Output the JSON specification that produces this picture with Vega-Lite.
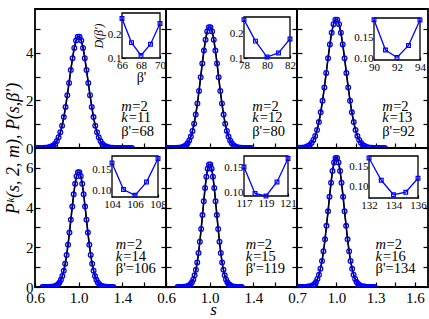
{
"$schema":"https://vega.github.io/schema/vega-lite/v6.json",
"padding":{"left":3,"top":8,"right":2,"bottom":0},
"datasets":{
"d1":[{"s":0.608,"y":0},{"s":0.624,"y":0},{"s":0.640,"y":0},{"s":0.656,"y":0},{"s":0.672,"y":0},{"s":0.688,"y":0.01},{"s":0.704,"y":0.01},{"s":0.720,"y":0.02},{"s":0.736,"y":0.04},{"s":0.752,"y":0.07},{"s":0.768,"y":0.11},{"s":0.784,"y":0.18},{"s":0.800,"y":0.29},{"s":0.816,"y":0.45},{"s":0.832,"y":0.66},{"s":0.848,"y":0.94},{"s":0.864,"y":1.30},{"s":0.880,"y":1.73},{"s":0.896,"y":2.22},{"s":0.912,"y":2.74},{"s":0.928,"y":3.28},{"s":0.944,"y":3.78},{"s":0.960,"y":4.21},{"s":0.976,"y":4.52},{"s":0.992,"y":4.68},{"s":1.008,"y":4.68},{"s":1.024,"y":4.52},{"s":1.040,"y":4.21},{"s":1.056,"y":3.78},{"s":1.072,"y":3.28},{"s":1.088,"y":2.74},{"s":1.104,"y":2.22},{"s":1.120,"y":1.73},{"s":1.136,"y":1.30},{"s":1.152,"y":0.94},{"s":1.168,"y":0.66},{"s":1.184,"y":0.45},{"s":1.200,"y":0.29},{"s":1.216,"y":0.18},{"s":1.232,"y":0.11},{"s":1.248,"y":0.07},{"s":1.264,"y":0.04},{"s":1.280,"y":0.02},{"s":1.296,"y":0.01},{"s":1.312,"y":0.01},{"s":1.328,"y":0},{"s":1.344,"y":0},{"s":1.360,"y":0},{"s":1.376,"y":0},{"s":1.392,"y":0},{"s":1.408,"y":0},{"s":1.424,"y":0},{"s":1.440,"y":0},{"s":1.456,"y":0},{"s":1.472,"y":0},{"s":1.488,"y":0}],
"d2":[{"s":0.6025,"y":0},{"s":0.6175,"y":0},{"s":0.6325,"y":0},{"s":0.6475,"y":0},{"s":0.6625,"y":0},{"s":0.6775,"y":0},{"s":0.6925,"y":0},{"s":0.7075,"y":0.01},{"s":0.7225,"y":0.01},{"s":0.7375,"y":0.02},{"s":0.7525,"y":0.04},{"s":0.7675,"y":0.07},{"s":0.7825,"y":0.12},{"s":0.7975,"y":0.20},{"s":0.8125,"y":0.32},{"s":0.8275,"y":0.48},{"s":0.8425,"y":0.72},{"s":0.8575,"y":1.02},{"s":0.8725,"y":1.41},{"s":0.8875,"y":1.87},{"s":0.9025,"y":2.40},{"s":0.9175,"y":2.98},{"s":0.9325,"y":3.56},{"s":0.9475,"y":4.10},{"s":0.9625,"y":4.56},{"s":0.9775,"y":4.90},{"s":0.9925,"y":5.08},{"s":1.0075,"y":5.08},{"s":1.0225,"y":4.90},{"s":1.0375,"y":4.56},{"s":1.0525,"y":4.10},{"s":1.0675,"y":3.56},{"s":1.0825,"y":2.98},{"s":1.0975,"y":2.40},{"s":1.1125,"y":1.87},{"s":1.1275,"y":1.41},{"s":1.1425,"y":1.02},{"s":1.1575,"y":0.72},{"s":1.1725,"y":0.48},{"s":1.1875,"y":0.32},{"s":1.2025,"y":0.20},{"s":1.2175,"y":0.12},{"s":1.2325,"y":0.07},{"s":1.2475,"y":0.04},{"s":1.2625,"y":0.02},{"s":1.2775,"y":0.01},{"s":1.2925,"y":0.01},{"s":1.3075,"y":0},{"s":1.3225,"y":0},{"s":1.3375,"y":0},{"s":1.3525,"y":0},{"s":1.3675,"y":0},{"s":1.3825,"y":0}],
"d3":[{"s":0.699,"y":0},{"s":0.713,"y":0},{"s":0.727,"y":0.01},{"s":0.741,"y":0.01},{"s":0.755,"y":0.02},{"s":0.769,"y":0.04},{"s":0.783,"y":0.08},{"s":0.797,"y":0.13},{"s":0.811,"y":0.21},{"s":0.825,"y":0.34},{"s":0.839,"y":0.51},{"s":0.853,"y":0.76},{"s":0.867,"y":1.09},{"s":0.881,"y":1.50},{"s":0.895,"y":1.99},{"s":0.909,"y":2.55},{"s":0.923,"y":3.16},{"s":0.937,"y":3.78},{"s":0.951,"y":4.36},{"s":0.965,"y":4.85},{"s":0.979,"y":5.21},{"s":0.993,"y":5.40},{"s":1.007,"y":5.40},{"s":1.021,"y":5.21},{"s":1.035,"y":4.85},{"s":1.049,"y":4.36},{"s":1.063,"y":3.78},{"s":1.077,"y":3.16},{"s":1.091,"y":2.55},{"s":1.105,"y":1.99},{"s":1.119,"y":1.50},{"s":1.133,"y":1.09},{"s":1.147,"y":0.76},{"s":1.161,"y":0.51},{"s":1.175,"y":0.34},{"s":1.189,"y":0.21},{"s":1.203,"y":0.13},{"s":1.217,"y":0.08},{"s":1.231,"y":0.04},{"s":1.245,"y":0.02},{"s":1.259,"y":0.01},{"s":1.273,"y":0.01},{"s":1.287,"y":0},{"s":1.301,"y":0},{"s":1.315,"y":0},{"s":1.329,"y":0},{"s":1.343,"y":0},{"s":1.357,"y":0},{"s":1.371,"y":0}],
"d4":[{"s":0.6685,"y":0},{"s":0.6815,"y":0},{"s":0.6945,"y":0},{"s":0.7075,"y":0},{"s":0.7205,"y":0},{"s":0.7335,"y":0},{"s":0.7465,"y":0.01},{"s":0.7595,"y":0.01},{"s":0.7725,"y":0.02},{"s":0.7855,"y":0.05},{"s":0.7985,"y":0.08},{"s":0.8115,"y":0.14},{"s":0.8245,"y":0.23},{"s":0.8375,"y":0.36},{"s":0.8505,"y":0.55},{"s":0.8635,"y":0.82},{"s":0.8765,"y":1.17},{"s":0.8895,"y":1.61},{"s":0.9025,"y":2.13},{"s":0.9155,"y":2.74},{"s":0.9285,"y":3.39},{"s":0.9415,"y":4.05},{"s":0.9545,"y":4.67},{"s":0.9675,"y":5.20},{"s":0.9805,"y":5.58},{"s":0.9935,"y":5.78},{"s":1.0065,"y":5.78},{"s":1.0195,"y":5.58},{"s":1.0325,"y":5.20},{"s":1.0455,"y":4.67},{"s":1.0585,"y":4.05},{"s":1.0715,"y":3.39},{"s":1.0845,"y":2.74},{"s":1.0975,"y":2.13},{"s":1.1105,"y":1.61},{"s":1.1235,"y":1.17},{"s":1.1365,"y":0.82},{"s":1.1495,"y":0.55},{"s":1.1625,"y":0.36},{"s":1.1755,"y":0.23},{"s":1.1885,"y":0.14},{"s":1.2015,"y":0.08},{"s":1.2145,"y":0.05},{"s":1.2275,"y":0.02},{"s":1.2405,"y":0.01},{"s":1.2535,"y":0.01},{"s":1.2665,"y":0},{"s":1.2795,"y":0},{"s":1.2925,"y":0},{"s":1.3055,"y":0},{"s":1.3185,"y":0}],
"d5":[{"s":0.706,"y":0},{"s":0.718,"y":0},{"s":0.730,"y":0},{"s":0.742,"y":0},{"s":0.754,"y":0},{"s":0.766,"y":0.01},{"s":0.778,"y":0.01},{"s":0.790,"y":0.03},{"s":0.802,"y":0.05},{"s":0.814,"y":0.09},{"s":0.826,"y":0.15},{"s":0.838,"y":0.24},{"s":0.850,"y":0.38},{"s":0.862,"y":0.59},{"s":0.874,"y":0.87},{"s":0.886,"y":1.24},{"s":0.898,"y":1.71},{"s":0.910,"y":2.28},{"s":0.922,"y":2.92},{"s":0.934,"y":3.62},{"s":0.946,"y":4.32},{"s":0.958,"y":4.99},{"s":0.970,"y":5.55},{"s":0.982,"y":5.96},{"s":0.994,"y":6.17},{"s":1.006,"y":6.17},{"s":1.018,"y":5.96},{"s":1.030,"y":5.55},{"s":1.042,"y":4.99},{"s":1.054,"y":4.32},{"s":1.066,"y":3.62},{"s":1.078,"y":2.92},{"s":1.090,"y":2.28},{"s":1.102,"y":1.71},{"s":1.114,"y":1.24},{"s":1.126,"y":0.87},{"s":1.138,"y":0.59},{"s":1.150,"y":0.38},{"s":1.162,"y":0.24},{"s":1.174,"y":0.15},{"s":1.186,"y":0.09},{"s":1.198,"y":0.05},{"s":1.210,"y":0.03},{"s":1.222,"y":0.01},{"s":1.234,"y":0.01},{"s":1.246,"y":0},{"s":1.258,"y":0},{"s":1.270,"y":0},{"s":1.282,"y":0},{"s":1.294,"y":0}],
"d6":[{"s":0.707,"y":0},{"s":0.718,"y":0},{"s":0.730,"y":0},{"s":0.741,"y":0},{"s":0.753,"y":0},{"s":0.764,"y":0},{"s":0.776,"y":0.01},{"s":0.787,"y":0.02},{"s":0.799,"y":0.03},{"s":0.810,"y":0.05},{"s":0.822,"y":0.09},{"s":0.833,"y":0.15},{"s":0.845,"y":0.25},{"s":0.856,"y":0.40},{"s":0.868,"y":0.62},{"s":0.879,"y":0.92},{"s":0.891,"y":1.31},{"s":0.902,"y":1.80},{"s":0.914,"y":2.40},{"s":0.925,"y":3.08},{"s":0.937,"y":3.81},{"s":0.948,"y":4.55},{"s":0.960,"y":5.25},{"s":0.971,"y":5.84},{"s":0.983,"y":6.27},{"s":0.994,"y":6.50},{"s":1.006,"y":6.50},{"s":1.017,"y":6.27},{"s":1.029,"y":5.84},{"s":1.040,"y":5.25},{"s":1.052,"y":4.55},{"s":1.063,"y":3.81},{"s":1.075,"y":3.08},{"s":1.086,"y":2.40},{"s":1.098,"y":1.80},{"s":1.109,"y":1.31},{"s":1.121,"y":0.92},{"s":1.132,"y":0.62},{"s":1.144,"y":0.40},{"s":1.155,"y":0.25},{"s":1.167,"y":0.15},{"s":1.178,"y":0.09},{"s":1.190,"y":0.05},{"s":1.201,"y":0.03},{"s":1.213,"y":0.02},{"s":1.224,"y":0.01},{"s":1.236,"y":0},{"s":1.247,"y":0},{"s":1.259,"y":0},{"s":1.270,"y":0},{"s":1.282,"y":0},{"s":1.293,"y":0}],
"i1":[{"b":66,"d":0.267},{"b":67,"d":0.165},{"b":68,"d":0.111},{"b":69,"d":0.158},{"b":70,"d":0.246}],
"i2":[{"b":78,"d":0.259},{"b":79,"d":0.170},{"b":80,"d":0.104},{"b":81,"d":0.121},{"b":82,"d":0.179}],
"i3":[{"b":90,"d":0.193},{"b":91,"d":0.120},{"b":92,"d":0.102},{"b":93,"d":0.131},{"b":94,"d":0.192}],
"i4":[{"b":104,"d":0.166},{"b":105,"d":0.102},{"b":106,"d":0.088},{"b":107,"d":0.120},{"b":108,"d":0.177}],
"i5":[{"b":117,"d":0.151},{"b":118,"d":0.098},{"b":119,"d":0.093},{"b":120,"d":0.121},{"b":121,"d":0.168}],
"i6":[{"b":132,"d":0.170},{"b":133,"d":0.116},{"b":134,"d":0.081},{"b":135,"d":0.087},{"b":136,"d":0.121}],
"lab":[{"p":1,"m":2,"k":11,"b":68},{"p":2,"m":2,"k":12,"b":80},{"p":3,"m":2,"k":13,"b":92},{"p":4,"m":2,"k":14,"b":106},{"p":5,"m":2,"k":15,"b":119},{"p":6,"m":2,"k":16,"b":134}]
},
"columns":3,
"spacing":0,
"bounds":"flush",
"concat":[
{"width":131,"height":139,
 "layer":[
  {"data":{"name":"d1"},
   "layer":[
    {"mark":{"type":"line","color":"#0000ff","strokeWidth":1.2,"clip":true},
     "encoding":{"x":{"field":"s","type":"quantitative","scale":{"domain":[0.6,1.8],"nice":false,"zero":false},"axis":{"orient":"bottom","values":[0.6,0.8,1,1.2,1.4,1.6,1.8],"labels":false,"tickSize":-5,"title":null}},
      "y":{"field":"y","type":"quantitative","scale":{"domain":[0,5.85],"nice":false},"axis":{"orient":"left","values":[0,1,2,3,4,5],"labelExpr":"datum.value%2==0?datum.label:''","tickSize":-5,"labelPadding":7,"title":null}}}},
    {"transform":[{"filter":{"field":"s","range":[0.75,1.25]}}],
     "mark":{"type":"line","color":"black","strokeWidth":1.6,"interpolate":"monotone"},
     "encoding":{"x":{"field":"s","type":"quantitative","axis":null},"y":{"field":"y","type":"quantitative","axis":{"orient":"right","values":[0,1,2,3,4,5],"labels":false,"tickSize":-5,"title":null}}}},
    {"mark":{"type":"point","shape":"circle","filled":false,"color":"#0000ff","size":22,"strokeWidth":1.3,"opacity":1,"clip":true},
     "encoding":{"x":{"field":"s","type":"quantitative","axis":null},"y":{"field":"y","type":"quantitative","axis":null}}},
    {"data":{"name":"lab"},"transform":[{"filter":{"field":"p","equal":1}}],
     "layer":[
      {"mark":{"type":"text","text":"m","font":"Liberation Serif","fontStyle":"italic","fontSize":14.5,"align":"left","baseline":"middle"},"encoding":{"x":{"datum":1.39,"type":"quantitative","axis":null},"y":{"datum":1.74,"type":"quantitative","axis":null}}},
      {"mark":{"type":"text","text":"=2","font":"Liberation Serif","fontSize":14.5,"align":"left","baseline":"middle","dx":11},"encoding":{"x":{"datum":1.39,"type":"quantitative","axis":null},"y":{"datum":1.74,"type":"quantitative","axis":null}}},
      {"mark":{"type":"text","text":"k","font":"Liberation Serif","fontStyle":"italic","fontSize":14.5,"align":"left","baseline":"middle"},"encoding":{"x":{"datum":1.39,"type":"quantitative","axis":null},"y":{"datum":1.25,"type":"quantitative","axis":null}}},
      {"mark":{"type":"text","text":"=11","font":"Liberation Serif","fontSize":14.5,"align":"left","baseline":"middle","dx":7.5},"encoding":{"x":{"datum":1.39,"type":"quantitative","axis":null},"y":{"datum":1.25,"type":"quantitative","axis":null}}},
      {"mark":{"type":"text","text":"β'=68","font":"Liberation Serif","fontSize":14.5,"align":"left","baseline":"middle"},"encoding":{"x":{"datum":1.39,"type":"quantitative","axis":null},"y":{"datum":0.69,"type":"quantitative","axis":null}}}
     ]}
   ],
   "resolve":{"axis":{"x":"independent","y":"independent"}}},
  {"data":{"name":"i1"},
   "layer":[
    {"transform":[{"filter":{"field":"b","equal":66}}],
     "mark":{"type":"rect","fill":"white","stroke":"black","strokeWidth":1.3},
     "encoding":{"x":{"datum":66,"type":"quantitative","scale":{"domain":[66,70],"range":[87,125],"nice":false,"zero":false},"axis":{"orient":"bottom","offset":-90,"values":[66,67,68,69,70],"labelExpr":"(datum.value-66)%2==0?datum.label:''","tickSize":-3,"labelPadding":4,"labelFontSize":11,"labelFlush":false,"labelOverlap":false,"title":"β'","titleFontSize":14,"titlePadding":0}},
      "x2":{"datum":70},
      "y":{"datum":0.1,"type":"quantitative","scale":{"domain":[0.1,0.29],"range":[49,4],"nice":false,"zero":false},"axis":{"orient":"left","offset":-87,"values":[0.1,0.2],"format":".1f","tickSize":-3,"labelPadding":4,"labelFontSize":11,"labelOverlap":false,"title":"D(β')","titleFontSize":12,"titleFontStyle":"italic","titlePadding":2}},
      "y2":{"datum":0.29}}},
    {"mark":{"type":"line","color":"#0000ff","strokeWidth":1.3},"encoding":{"x":{"field":"b","type":"quantitative"},"y":{"field":"d","type":"quantitative"}}},
    {"mark":{"type":"point","shape":"square","filled":false,"color":"#0000ff","size":14,"strokeWidth":1.2,"opacity":1},"encoding":{"x":{"field":"b","type":"quantitative"},"y":{"field":"d","type":"quantitative"}}}
   ]}
 ],
 "resolve":{"scale":{"x":"independent","y":"independent"},"axis":{"x":"independent","y":"independent"}}
},
{"width":131,"height":139,
 "layer":[
  {"data":{"name":"d2"},
   "layer":[
    {"mark":{"type":"line","color":"#0000ff","strokeWidth":1.2,"clip":true},
     "encoding":{"x":{"field":"s","type":"quantitative","scale":{"domain":[0.6,1.8],"nice":false,"zero":false},"axis":{"orient":"bottom","values":[0.6,0.8,1,1.2,1.4,1.6,1.8],"labels":false,"tickSize":-5,"title":null}},
      "y":{"field":"y","type":"quantitative","scale":{"domain":[0,5.85],"nice":false},"axis":{"orient":"left","values":[0,1,2,3,4,5],"labels":false,"tickSize":-5,"title":null}}}},
    {"transform":[{"filter":{"field":"s","range":[0.76,1.22]}}],
     "mark":{"type":"line","color":"black","strokeWidth":1.6,"interpolate":"monotone"},
     "encoding":{"x":{"field":"s","type":"quantitative","axis":null},"y":{"field":"y","type":"quantitative","axis":{"orient":"right","values":[0,1,2,3,4,5],"labels":false,"tickSize":-5,"title":null}}}},
    {"mark":{"type":"point","shape":"circle","filled":false,"color":"#0000ff","size":22,"strokeWidth":1.3,"opacity":1,"clip":true},
     "encoding":{"x":{"field":"s","type":"quantitative","axis":null},"y":{"field":"y","type":"quantitative","axis":null}}},
    {"data":{"name":"lab"},"transform":[{"filter":{"field":"p","equal":2}}],
     "layer":[
      {"mark":{"type":"text","text":"m","font":"Liberation Serif","fontStyle":"italic","fontSize":14.5,"align":"left","baseline":"middle"},"encoding":{"x":{"datum":1.39,"type":"quantitative","axis":null},"y":{"datum":1.74,"type":"quantitative","axis":null}}},
      {"mark":{"type":"text","text":"=2","font":"Liberation Serif","fontSize":14.5,"align":"left","baseline":"middle","dx":11},"encoding":{"x":{"datum":1.39,"type":"quantitative","axis":null},"y":{"datum":1.74,"type":"quantitative","axis":null}}},
      {"mark":{"type":"text","text":"k","font":"Liberation Serif","fontStyle":"italic","fontSize":14.5,"align":"left","baseline":"middle"},"encoding":{"x":{"datum":1.39,"type":"quantitative","axis":null},"y":{"datum":1.25,"type":"quantitative","axis":null}}},
      {"mark":{"type":"text","text":"=12","font":"Liberation Serif","fontSize":14.5,"align":"left","baseline":"middle","dx":7.5},"encoding":{"x":{"datum":1.39,"type":"quantitative","axis":null},"y":{"datum":1.25,"type":"quantitative","axis":null}}},
      {"mark":{"type":"text","text":"β'=80","font":"Liberation Serif","fontSize":14.5,"align":"left","baseline":"middle"},"encoding":{"x":{"datum":1.39,"type":"quantitative","axis":null},"y":{"datum":0.69,"type":"quantitative","axis":null}}}
     ]}
   ],
   "resolve":{"axis":{"x":"independent","y":"independent"}}},
  {"data":{"name":"i2"},
   "layer":[
    {"transform":[{"filter":{"field":"b","equal":78}}],
     "mark":{"type":"rect","fill":"white","stroke":"black","strokeWidth":1.3},
     "encoding":{"x":{"datum":78,"type":"quantitative","scale":{"domain":[78,82],"range":[78,124],"nice":false,"zero":false},"axis":{"orient":"bottom","offset":-90,"values":[78,79,80,81,82],"labelExpr":"(datum.value-78)%2==0?datum.label:''","tickSize":-3,"labelPadding":4,"labelFontSize":11,"labelFlush":false,"labelOverlap":false,"title":null}},
      "x2":{"datum":82},
      "y":{"datum":0.1,"type":"quantitative","scale":{"domain":[0.1,0.27],"range":[49,8],"nice":false,"zero":false},"axis":{"orient":"left","offset":-78,"values":[0.1,0.2],"format":".1f","tickSize":-3,"labelPadding":4,"labelFontSize":11,"labelOverlap":false,"title":null}},
      "y2":{"datum":0.27}}},
    {"mark":{"type":"line","color":"#0000ff","strokeWidth":1.3},"encoding":{"x":{"field":"b","type":"quantitative"},"y":{"field":"d","type":"quantitative"}}},
    {"mark":{"type":"point","shape":"square","filled":false,"color":"#0000ff","size":14,"strokeWidth":1.2,"opacity":1},"encoding":{"x":{"field":"b","type":"quantitative"},"y":{"field":"d","type":"quantitative"}}}
   ]}
 ],
 "resolve":{"scale":{"x":"independent","y":"independent"},"axis":{"x":"independent","y":"independent"}}
},
{"width":131,"height":139,
 "layer":[
  {"data":{"name":"d3"},
   "layer":[
    {"mark":{"type":"line","color":"#0000ff","strokeWidth":1.2,"clip":true},
     "encoding":{"x":{"field":"s","type":"quantitative","scale":{"domain":[0.7,1.7],"nice":false,"zero":false},"axis":{"orient":"bottom","values":[0.7,0.85,1,1.15,1.3,1.45,1.6],"labels":false,"tickSize":-5,"title":null}},
      "y":{"field":"y","type":"quantitative","scale":{"domain":[0,5.85],"nice":false},"axis":{"orient":"left","values":[0,1,2,3,4,5],"labels":false,"tickSize":-5,"title":null}}}},
    {"transform":[{"filter":{"field":"s","range":[0.78,1.21]}}],
     "mark":{"type":"line","color":"black","strokeWidth":1.6,"interpolate":"monotone"},
     "encoding":{"x":{"field":"s","type":"quantitative","axis":null},"y":{"field":"y","type":"quantitative","axis":{"orient":"right","values":[0,1,2,3,4,5],"labels":false,"tickSize":-5,"title":null}}}},
    {"mark":{"type":"point","shape":"circle","filled":false,"color":"#0000ff","size":22,"strokeWidth":1.3,"opacity":1,"clip":true},
     "encoding":{"x":{"field":"s","type":"quantitative","axis":null},"y":{"field":"y","type":"quantitative","axis":null}}},
    {"data":{"name":"lab"},"transform":[{"filter":{"field":"p","equal":3}}],
     "layer":[
      {"mark":{"type":"text","text":"m","font":"Liberation Serif","fontStyle":"italic","fontSize":14.5,"align":"left","baseline":"middle"},"encoding":{"x":{"datum":1.35,"type":"quantitative","axis":null},"y":{"datum":1.74,"type":"quantitative","axis":null}}},
      {"mark":{"type":"text","text":"=2","font":"Liberation Serif","fontSize":14.5,"align":"left","baseline":"middle","dx":11},"encoding":{"x":{"datum":1.35,"type":"quantitative","axis":null},"y":{"datum":1.74,"type":"quantitative","axis":null}}},
      {"mark":{"type":"text","text":"k","font":"Liberation Serif","fontStyle":"italic","fontSize":14.5,"align":"left","baseline":"middle"},"encoding":{"x":{"datum":1.35,"type":"quantitative","axis":null},"y":{"datum":1.25,"type":"quantitative","axis":null}}},
      {"mark":{"type":"text","text":"=13","font":"Liberation Serif","fontSize":14.5,"align":"left","baseline":"middle","dx":7.5},"encoding":{"x":{"datum":1.35,"type":"quantitative","axis":null},"y":{"datum":1.25,"type":"quantitative","axis":null}}},
      {"mark":{"type":"text","text":"β'=92","font":"Liberation Serif","fontSize":14.5,"align":"left","baseline":"middle"},"encoding":{"x":{"datum":1.35,"type":"quantitative","axis":null},"y":{"datum":0.69,"type":"quantitative","axis":null}}}
     ]}
   ],
   "resolve":{"axis":{"x":"independent","y":"independent"}}},
  {"data":{"name":"i3"},
   "layer":[
    {"transform":[{"filter":{"field":"b","equal":90}}],
     "mark":{"type":"rect","fill":"white","stroke":"black","strokeWidth":1.3},
     "encoding":{"x":{"datum":90,"type":"quantitative","scale":{"domain":[90,94],"range":[77,123],"nice":false,"zero":false},"axis":{"orient":"bottom","offset":-88,"values":[90,91,92,93,94],"labelExpr":"(datum.value-90)%2==0?datum.label:''","tickSize":-3,"labelPadding":4,"labelFontSize":11,"labelFlush":false,"labelOverlap":false,"title":null}},
      "x2":{"datum":94},
      "y":{"datum":0.096,"type":"quantitative","scale":{"domain":[0.096,0.197],"range":[51,9],"nice":false,"zero":false},"axis":{"orient":"left","offset":-77,"values":[0.1,0.15],"format":".2f","tickSize":-3,"labelPadding":4,"labelFontSize":11,"labelOverlap":false,"title":null}},
      "y2":{"datum":0.197}}},
    {"mark":{"type":"line","color":"#0000ff","strokeWidth":1.3},"encoding":{"x":{"field":"b","type":"quantitative"},"y":{"field":"d","type":"quantitative"}}},
    {"mark":{"type":"point","shape":"square","filled":false,"color":"#0000ff","size":14,"strokeWidth":1.2,"opacity":1},"encoding":{"x":{"field":"b","type":"quantitative"},"y":{"field":"d","type":"quantitative"}}}
   ]}
 ],
 "resolve":{"scale":{"x":"independent","y":"independent"},"axis":{"x":"independent","y":"independent"}}
},
{"width":131,"height":139,
 "layer":[
  {"data":{"name":"d4"},
   "layer":[
    {"mark":{"type":"line","color":"#0000ff","strokeWidth":1.2,"clip":true},
     "encoding":{"x":{"field":"s","type":"quantitative","scale":{"domain":[0.6,1.8],"nice":false,"zero":false},"axis":{"orient":"bottom","values":[0.6,0.8,1,1.2,1.4,1.6,1.8],"format":".1f","labelExpr":"indexof(['0.6','1.0','1.4'],datum.label)>=0?datum.label:''","tickSize":-5,"labelPadding":8,"labelFlush":false,"labelOverlap":false,"title":null}},
      "y":{"field":"y","type":"quantitative","scale":{"domain":[0,7],"nice":false},"axis":{"orient":"left","values":[0,1,2,3,4,5,6],"labelExpr":"datum.value%2==0?datum.label:''","tickSize":-5,"labelPadding":7,"title":"Pᵏ(s, 2, m), P(s,β')","titleY":0,"titleFontSize":18,"titleFontStyle":"italic","titlePadding":3}}}},
    {"transform":[{"filter":{"field":"s","range":[0.78,1.22]}}],
     "mark":{"type":"line","color":"black","strokeWidth":1.6,"interpolate":"monotone"},
     "encoding":{"x":{"field":"s","type":"quantitative","axis":null},"y":{"field":"y","type":"quantitative","axis":{"orient":"right","values":[0,1,2,3,4,5,6],"labels":false,"tickSize":-5,"title":null}}}},
    {"mark":{"type":"point","shape":"circle","filled":false,"color":"#0000ff","size":22,"strokeWidth":1.3,"opacity":1,"clip":true},
     "encoding":{"x":{"field":"s","type":"quantitative","axis":null},"y":{"field":"y","type":"quantitative","axis":null}}},
    {"data":{"name":"lab"},"transform":[{"filter":{"field":"p","equal":4}}],
     "layer":[
      {"mark":{"type":"text","text":"m","font":"Liberation Serif","fontStyle":"italic","fontSize":14.5,"align":"left","baseline":"middle"},"encoding":{"x":{"datum":1.34,"type":"quantitative","axis":null},"y":{"datum":2.115,"type":"quantitative","axis":null}}},
      {"mark":{"type":"text","text":"=2","font":"Liberation Serif","fontSize":14.5,"align":"left","baseline":"middle","dx":11},"encoding":{"x":{"datum":1.34,"type":"quantitative","axis":null},"y":{"datum":2.115,"type":"quantitative","axis":null}}},
      {"mark":{"type":"text","text":"k","font":"Liberation Serif","fontStyle":"italic","fontSize":14.5,"align":"left","baseline":"middle"},"encoding":{"x":{"datum":1.34,"type":"quantitative","axis":null},"y":{"datum":1.495,"type":"quantitative","axis":null}}},
      {"mark":{"type":"text","text":"=14","font":"Liberation Serif","fontSize":14.5,"align":"left","baseline":"middle","dx":7.5},"encoding":{"x":{"datum":1.34,"type":"quantitative","axis":null},"y":{"datum":1.495,"type":"quantitative","axis":null}}},
      {"mark":{"type":"text","text":"β'=106","font":"Liberation Serif","fontSize":14.5,"align":"left","baseline":"middle"},"encoding":{"x":{"datum":1.34,"type":"quantitative","axis":null},"y":{"datum":0.906,"type":"quantitative","axis":null}}}
     ]}
   ],
   "resolve":{"axis":{"x":"independent","y":"independent"}}},
  {"data":{"name":"i4"},
   "layer":[
    {"transform":[{"filter":{"field":"b","equal":104}}],
     "mark":{"type":"rect","fill":"white","stroke":"black","strokeWidth":1.3},
     "encoding":{"x":{"datum":104,"type":"quantitative","scale":{"domain":[104,108],"range":[77,123],"nice":false,"zero":false},"axis":{"orient":"bottom","offset":-90,"values":[104,105,106,107,108],"labelExpr":"(datum.value-104)%2==0?datum.label:''","tickSize":-3,"labelPadding":4,"labelFontSize":11,"labelFlush":false,"labelOverlap":false,"title":null}},
      "x2":{"datum":108},
      "y":{"datum":0.084,"type":"quantitative","scale":{"domain":[0.084,0.183],"range":[49,8],"nice":false,"zero":false},"axis":{"orient":"left","offset":-77,"values":[0.1,0.15],"format":".2f","tickSize":-3,"labelPadding":4,"labelFontSize":11,"labelOverlap":false,"title":null}},
      "y2":{"datum":0.183}}},
    {"mark":{"type":"line","color":"#0000ff","strokeWidth":1.3},"encoding":{"x":{"field":"b","type":"quantitative"},"y":{"field":"d","type":"quantitative"}}},
    {"mark":{"type":"point","shape":"square","filled":false,"color":"#0000ff","size":14,"strokeWidth":1.2,"opacity":1},"encoding":{"x":{"field":"b","type":"quantitative"},"y":{"field":"d","type":"quantitative"}}}
   ]}
 ],
 "resolve":{"scale":{"x":"independent","y":"independent"},"axis":{"x":"independent","y":"independent"}}
},
{"width":131,"height":139,
 "layer":[
  {"data":{"name":"d5"},
   "layer":[
    {"mark":{"type":"line","color":"#0000ff","strokeWidth":1.2,"clip":true},
     "encoding":{"x":{"field":"s","type":"quantitative","scale":{"domain":[0.6,1.8],"nice":false,"zero":false},"axis":{"orient":"bottom","values":[0.6,0.8,1,1.2,1.4,1.6,1.8],"format":".1f","labelExpr":"indexof(['0.6','1.0','1.4'],datum.label)>=0?datum.label:''","tickSize":-5,"labelPadding":8,"labelFlush":false,"labelOverlap":false,"title":"s","titleX":47,"titleFontSize":17,"titleFontStyle":"italic","titlePadding":-4}},
      "y":{"field":"y","type":"quantitative","scale":{"domain":[0,7],"nice":false},"axis":{"orient":"left","values":[0,1,2,3,4,5,6],"labels":false,"tickSize":-5,"title":null}}}},
    {"transform":[{"filter":{"field":"s","range":[0.78,1.2]}}],
     "mark":{"type":"line","color":"black","strokeWidth":1.6,"interpolate":"monotone"},
     "encoding":{"x":{"field":"s","type":"quantitative","axis":null},"y":{"field":"y","type":"quantitative","axis":{"orient":"right","values":[0,1,2,3,4,5,6],"labels":false,"tickSize":-5,"title":null}}}},
    {"mark":{"type":"point","shape":"circle","filled":false,"color":"#0000ff","size":22,"strokeWidth":1.3,"opacity":1,"clip":true},
     "encoding":{"x":{"field":"s","type":"quantitative","axis":null},"y":{"field":"y","type":"quantitative","axis":null}}},
    {"data":{"name":"lab"},"transform":[{"filter":{"field":"p","equal":5}}],
     "layer":[
      {"mark":{"type":"text","text":"m","font":"Liberation Serif","fontStyle":"italic","fontSize":14.5,"align":"left","baseline":"middle"},"encoding":{"x":{"datum":1.33,"type":"quantitative","axis":null},"y":{"datum":2.115,"type":"quantitative","axis":null}}},
      {"mark":{"type":"text","text":"=2","font":"Liberation Serif","fontSize":14.5,"align":"left","baseline":"middle","dx":11},"encoding":{"x":{"datum":1.33,"type":"quantitative","axis":null},"y":{"datum":2.115,"type":"quantitative","axis":null}}},
      {"mark":{"type":"text","text":"k","font":"Liberation Serif","fontStyle":"italic","fontSize":14.5,"align":"left","baseline":"middle"},"encoding":{"x":{"datum":1.33,"type":"quantitative","axis":null},"y":{"datum":1.495,"type":"quantitative","axis":null}}},
      {"mark":{"type":"text","text":"=15","font":"Liberation Serif","fontSize":14.5,"align":"left","baseline":"middle","dx":7.5},"encoding":{"x":{"datum":1.33,"type":"quantitative","axis":null},"y":{"datum":1.495,"type":"quantitative","axis":null}}},
      {"mark":{"type":"text","text":"β'=119","font":"Liberation Serif","fontSize":14.5,"align":"left","baseline":"middle"},"encoding":{"x":{"datum":1.33,"type":"quantitative","axis":null},"y":{"datum":0.906,"type":"quantitative","axis":null}}}
     ]}
   ],
   "resolve":{"axis":{"x":"independent","y":"independent"}}},
  {"data":{"name":"i5"},
   "layer":[
    {"transform":[{"filter":{"field":"b","equal":117}}],
     "mark":{"type":"rect","fill":"white","stroke":"black","strokeWidth":1.3},
     "encoding":{"x":{"datum":117,"type":"quantitative","scale":{"domain":[117,121],"range":[78,122],"nice":false,"zero":false},"axis":{"orient":"bottom","offset":-91,"values":[117,118,119,120,121],"labelExpr":"(datum.value-117)%2==0?datum.label:''","tickSize":-3,"labelPadding":4,"labelFontSize":11,"labelFlush":false,"labelOverlap":false,"title":null}},
      "x2":{"datum":121},
      "y":{"datum":0.093,"type":"quantitative","scale":{"domain":[0.093,0.173],"range":[48,8],"nice":false,"zero":false},"axis":{"orient":"left","offset":-78,"values":[0.1,0.15],"format":".2f","tickSize":-3,"labelPadding":4,"labelFontSize":11,"labelOverlap":false,"title":null}},
      "y2":{"datum":0.173}}},
    {"mark":{"type":"line","color":"#0000ff","strokeWidth":1.3},"encoding":{"x":{"field":"b","type":"quantitative"},"y":{"field":"d","type":"quantitative"}}},
    {"mark":{"type":"point","shape":"square","filled":false,"color":"#0000ff","size":14,"strokeWidth":1.2,"opacity":1},"encoding":{"x":{"field":"b","type":"quantitative"},"y":{"field":"d","type":"quantitative"}}}
   ]}
 ],
 "resolve":{"scale":{"x":"independent","y":"independent"},"axis":{"x":"independent","y":"independent"}}
},
{"width":131,"height":139,
 "layer":[
  {"data":{"name":"d6"},
   "layer":[
    {"mark":{"type":"line","color":"#0000ff","strokeWidth":1.2,"clip":true},
     "encoding":{"x":{"field":"s","type":"quantitative","scale":{"domain":[0.7,1.7],"nice":false,"zero":false},"axis":{"orient":"bottom","values":[0.7,0.85,1,1.15,1.3,1.45,1.6],"format":".1f","labelExpr":"indexof(['0.7','1.0','1.3','1.6'],datum.label)>=0?datum.label:''","tickSize":-5,"labelPadding":8,"labelFlush":false,"labelOverlap":false,"title":null}},
      "y":{"field":"y","type":"quantitative","scale":{"domain":[0,7],"nice":false},"axis":{"orient":"left","values":[0,1,2,3,4,5,6],"labels":false,"tickSize":-5,"title":null}}}},
    {"transform":[{"filter":{"field":"s","range":[0.83,1.17]}}],
     "mark":{"type":"line","color":"black","strokeWidth":1.6,"interpolate":"monotone"},
     "encoding":{"x":{"field":"s","type":"quantitative","axis":null},"y":{"field":"y","type":"quantitative","axis":{"orient":"right","values":[0,1,2,3,4,5,6],"labels":false,"tickSize":-5,"title":null}}}},
    {"mark":{"type":"point","shape":"circle","filled":false,"color":"#0000ff","size":22,"strokeWidth":1.3,"opacity":1,"clip":true},
     "encoding":{"x":{"field":"s","type":"quantitative","axis":null},"y":{"field":"y","type":"quantitative","axis":null}}},
    {"data":{"name":"lab"},"transform":[{"filter":{"field":"p","equal":6}}],
     "layer":[
      {"mark":{"type":"text","text":"m","font":"Liberation Serif","fontStyle":"italic","fontSize":14.5,"align":"left","baseline":"middle"},"encoding":{"x":{"datum":1.3,"type":"quantitative","axis":null},"y":{"datum":2.115,"type":"quantitative","axis":null}}},
      {"mark":{"type":"text","text":"=2","font":"Liberation Serif","fontSize":14.5,"align":"left","baseline":"middle","dx":11},"encoding":{"x":{"datum":1.3,"type":"quantitative","axis":null},"y":{"datum":2.115,"type":"quantitative","axis":null}}},
      {"mark":{"type":"text","text":"k","font":"Liberation Serif","fontStyle":"italic","fontSize":14.5,"align":"left","baseline":"middle"},"encoding":{"x":{"datum":1.3,"type":"quantitative","axis":null},"y":{"datum":1.495,"type":"quantitative","axis":null}}},
      {"mark":{"type":"text","text":"=16","font":"Liberation Serif","fontSize":14.5,"align":"left","baseline":"middle","dx":7.5},"encoding":{"x":{"datum":1.3,"type":"quantitative","axis":null},"y":{"datum":1.495,"type":"quantitative","axis":null}}},
      {"mark":{"type":"text","text":"β'=134","font":"Liberation Serif","fontSize":14.5,"align":"left","baseline":"middle"},"encoding":{"x":{"datum":1.3,"type":"quantitative","axis":null},"y":{"datum":0.906,"type":"quantitative","axis":null}}}
     ]}
   ],
   "resolve":{"axis":{"x":"independent","y":"independent"}}},
  {"data":{"name":"i6"},
   "layer":[
    {"transform":[{"filter":{"field":"b","equal":132}}],
     "mark":{"type":"rect","fill":"white","stroke":"black","strokeWidth":1.3},
     "encoding":{"x":{"datum":132,"type":"quantitative","scale":{"domain":[132,136],"range":[72,121],"nice":false,"zero":false},"axis":{"orient":"bottom","offset":-89,"values":[132,133,134,135,136],"labelExpr":"(datum.value-132)%2==0?datum.label:''","tickSize":-3,"labelPadding":4,"labelFontSize":11,"labelFlush":false,"labelOverlap":false,"title":null}},
      "x2":{"datum":136},
      "y":{"datum":0.073,"type":"quantitative","scale":{"domain":[0.073,0.175],"range":[50,8],"nice":false,"zero":false},"axis":{"orient":"left","offset":-72,"values":[0.1,0.15],"format":".2f","tickSize":-3,"labelPadding":4,"labelFontSize":11,"labelOverlap":false,"title":null}},
      "y2":{"datum":0.175}}},
    {"mark":{"type":"line","color":"#0000ff","strokeWidth":1.3},"encoding":{"x":{"field":"b","type":"quantitative"},"y":{"field":"d","type":"quantitative"}}},
    {"mark":{"type":"point","shape":"square","filled":false,"color":"#0000ff","size":14,"strokeWidth":1.2,"opacity":1},"encoding":{"x":{"field":"b","type":"quantitative"},"y":{"field":"d","type":"quantitative"}}}
   ]}
 ],
 "resolve":{"scale":{"x":"independent","y":"independent"},"axis":{"x":"independent","y":"independent"}}
}
],
"config":{
 "font":"Liberation Serif",
 "view":{"stroke":"black","strokeWidth":1.8},
 "axis":{"grid":false,"domain":false,"ticks":true,"tickColor":"black","tickWidth":1.2,"labelFont":"Liberation Serif","labelFontSize":15,"labelColor":"black","titleFont":"Liberation Serif","titleColor":"black","titleFontWeight":"normal"},
 "text":{"font":"Liberation Serif","color":"black"}
}
}
